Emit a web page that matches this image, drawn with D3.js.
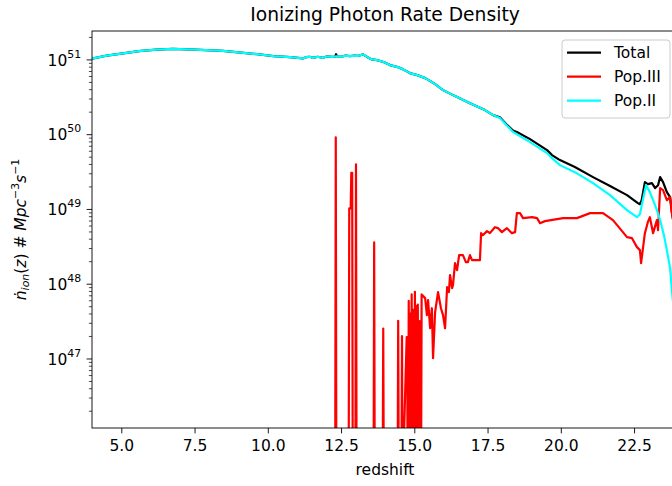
<!DOCTYPE html>
<html><head><meta charset="utf-8">
<script src="https://cdn.jsdelivr.net/npm/d3@7"></script>
<style>
body{margin:0;background:#fff;}
svg{display:block;font-family:"DejaVu Sans",sans-serif;}
</style></head>
<body><svg id="c" width="672" height="486"></svg>
<script>
// ---- data (z = redshift, values given as log10 of rate; 0 value = zero rate) ----
const xTicks = [5.0, 7.5, 10.0, 12.5, 15.0, 17.5, 20.0, 22.5];
const yTickExp = [47, 48, 49, 50, 51];
const seriesNames = ["Total", "Pop.III", "Pop.II"];
const seriesColors = ["#000000", "#ff0000", "#00ffff"];

const popIIz = [4.00,4.5,5.06,5.6,6.2,6.76,7.5,8.47,9.0,9.63,10.2,10.76,11.2,11.3,11.43,11.55,11.7,11.88,12.0,12.2,12.36,12.5,12.65,12.81,12.95,13.1,13.25,13.4,13.55,13.73,13.95,14.17,14.44,14.6,14.85,15.1,15.37,15.55,15.71,15.98,16.39,16.9,17.41,17.69,17.92,18.15,18.37,18.95,19.53,19.70,19.97,20.48,21.10,21.68,22.26,22.60,22.70,22.80,22.91,23.04,23.15,23.28,23.39,23.52,23.62,23.73,23.79,23.9,24.0];
const popIIlog = [51.01,51.05,51.08,51.11,51.13,51.14,51.13,51.115,51.095,51.07,51.045,51.03,51.013,51.03,51.035,51.02,51.035,51.02,51.04,51.035,51.04,51.035,51.05,51.045,51.05,51.048,51.067,51.03,51.00,50.99,50.965,50.924,50.897,50.87,50.817,50.79,50.75,50.71,50.67,50.589,50.509,50.415,50.322,50.255,50.215,50.12,50.03,49.894,49.747,49.68,49.586,49.492,49.345,49.185,48.984,48.89,48.93,49.118,49.318,49.225,49.118,48.984,48.85,48.65,48.449,48.208,47.914,47.5,47.0];

const totalZ = [4.00,4.5,5.06,5.6,6.2,6.76,7.5,8.47,9.0,9.63,10.2,10.76,11.2,11.3,11.43,11.55,11.7,11.88,12.0,12.2,12.30,12.33,12.36,12.5,12.65,12.81,12.95,13.1,13.25,13.4,13.55,13.73,13.95,14.17,14.44,14.6,14.85,15.1,15.37,15.55,15.71,15.98,16.39,16.9,17.41,17.69,17.92,18.15,18.37,18.5,18.95,19.53,19.70,19.97,20.48,21.10,21.68,22.26,22.63,22.70,22.76,22.87,22.97,23.11,23.22,23.32,23.39,23.49,23.62,23.73,23.79,23.9,24.0];
const totalLog = [51.01,51.05,51.08,51.11,51.13,51.14,51.13,51.115,51.095,51.07,51.045,51.03,51.013,51.03,51.035,51.02,51.035,51.02,51.04,51.035,51.037,51.07,51.04,51.035,51.05,51.045,51.05,51.048,51.067,51.03,51.00,50.99,50.965,50.924,50.897,50.87,50.817,50.79,50.75,50.71,50.67,50.589,50.509,50.415,50.322,50.255,50.225,50.13,50.05,50.03,49.934,49.787,49.72,49.653,49.56,49.426,49.306,49.185,49.078,49.064,49.118,49.359,49.332,49.345,49.279,49.318,49.426,49.359,49.225,49.158,48.957,48.7,48.5];

const popIIIz = [4.0,12.30,12.32,12.34,12.76,12.78,12.83,12.85,12.88,12.90,12.99,13.01,13.03,13.61,13.63,13.65,13.92,13.94,13.96,14.43,14.45,14.47,14.56,14.58,14.60,14.74,14.76,14.77,14.79,14.81,14.84,14.86,14.88,14.89,14.91,14.93,14.96,14.98,15.00,15.02,15.04,15.07,15.09,15.10,15.12,15.14,15.18,15.20,15.23,
  15.25,15.37,15.43,15.47,15.54,15.60,15.64,15.71,15.81,15.91,15.98,16.05,16.12,16.18,16.22,16.29,16.32,16.39,16.46,16.53,16.66,16.76,16.83,16.90,16.97,17.24,17.28,17.34,17.48,17.58,17.75,17.86,17.99,18.16,18.33,18.44,18.50,18.61,18.71,19.02,19.19,19.29,19.46,19.87,20.08,20.55,21.00,21.44,21.78,22.26,22.43,22.60,22.70,22.74,22.87,22.97,23.04,23.15,23.28,23.32,23.39,23.49,23.62,23.73,23.79,23.9,24.0];
const popIIIlog = [0,0,49.958,0,0,49.007,49.007,49.483,49.483,0,0,49.595,0,0,48.552,0,0,47.401,0,0,47.503,0,0,47.3,0,47.285,47.285,0,0,47.771,0,47.6,0,0,47.856,0,47.65,0,0,47.891,0,47.7,0,0,47.722,0,47.5,0,0,
  47.856,47.807,47.58,47.78,47.404,47.672,47.003,47.619,47.887,47.672,47.58,47.404,47.953,47.887,48.114,47.94,47.98,48.274,48.181,48.382,48.382,48.288,48.288,48.382,48.315,48.315,48.676,48.649,48.703,48.676,48.756,48.743,48.69,48.743,48.676,48.69,48.944,48.944,48.877,48.89,48.877,48.81,48.837,48.863,48.877,48.877,48.944,48.944,48.85,48.623,48.609,48.489,48.449,48.275,48.676,48.823,48.89,48.676,48.85,48.716,49.278,49.252,49.118,49.158,48.944,48.7,48.5];

// ---- layout ----
const L = 92, R = 678, T = 31, B = 428;
const FS = 15.5, FSS = 10.9, TL = 5.4;
const svg = d3.select("#c");
const x = d3.scaleLinear().domain([4, 24]).range([L, R]);
const y = d3.scaleLog().domain([Math.pow(10, 46.07), Math.pow(10, 51.38)]).range([B, T]);

const toPts = (zs, ls) => zs.map((z, i) => ({z: z, v: ls[i] === 0 ? 0 : Math.pow(10, ls[i])}));
const line = d3.line().x(d => x(d.z)).y(d => d.v > 0 ? y(d.v) : B + 60);

svg.append("defs").append("clipPath").attr("id", "clip")
  .append("rect").attr("x", L).attr("y", T).attr("width", R - L).attr("height", B - T);

const plot = svg.append("g").attr("clip-path", "url(#clip)");
const data = [toPts(totalZ, totalLog), toPts(popIIIz, popIIIlog), toPts(popIIz, popIIlog)];
data.forEach((d, i) => {
  plot.append("path").datum(d).attr("d", line)
    .attr("fill", "none").attr("stroke", seriesColors[i])
    .attr("stroke-width", 2.2).attr("stroke-linejoin", "round");
});

// spines
svg.append("rect").attr("x", L).attr("y", T).attr("width", R - L).attr("height", B - T)
  .attr("fill", "none").attr("stroke", "#000").attr("stroke-width", 0.9);

// x axis
const xa = svg.append("g").attr("transform", `translate(0,${B})`)
  .call(d3.axisBottom(x).tickValues(xTicks).tickSize(TL).tickSizeOuter(0).tickPadding(TL)
    .tickFormat(d => d.toFixed(1)));
xa.select(".domain").remove();
xa.selectAll(".tick line").attr("stroke", "#000").attr("stroke-width", 0.9);
xa.selectAll(".tick text").attr("font-size", FS).attr("fill", "#000")
  .attr("font-family", "DejaVu Sans").attr("dy", "0.78em");

// y axis majors
const majors = yTickExp.map(e => Math.pow(10, e));
const ya = svg.append("g").attr("transform", `translate(${L},0)`)
  .call(d3.axisLeft(y).tickValues(majors).tickSize(TL).tickSizeOuter(0).tickPadding(TL).tickFormat(""));
ya.select(".domain").remove();
ya.selectAll(".tick line").attr("stroke", "#000").attr("stroke-width", 0.9);
ya.selectAll(".tick text").each(function(d, i) {
  const t = d3.select(this).text(null).attr("font-size", FS).attr("fill", "#000")
    .attr("font-family", "DejaVu Sans").attr("dy", "0.36em");
  t.append("tspan").text("10");
  t.append("tspan").attr("font-size", FSS).attr("dy", "-0.72em").text(String(yTickExp[i]));
});
// y minor ticks
const minors = [];
for (let e = 46; e <= 51; e++) for (let m = 2; m <= 9; m++) {
  const v = m * Math.pow(10, e);
  if (v > y.domain()[0] && v < y.domain()[1]) minors.push(v);
}
const ym = svg.append("g").attr("transform", `translate(${L},0)`)
  .call(d3.axisLeft(y).tickValues(minors).tickSize(3.1).tickSizeOuter(0).tickFormat(""));
ym.select(".domain").remove();
ym.selectAll(".tick line").attr("stroke", "#000").attr("stroke-width", 0.7);

// title and labels
svg.append("text").attr("x", (L + R) / 2).attr("y", 21).attr("text-anchor", "middle")
  .attr("font-size", 18.7).attr("fill", "#000").text("Ionizing Photon Rate Density");
svg.append("text").attr("x", (L + R) / 2).attr("y", 475).attr("text-anchor", "middle")
  .attr("font-size", FS).attr("fill", "#000").text("redshift");

const yl = svg.append("text").attr("transform", "translate(26,229.5) rotate(-90)")
  .attr("text-anchor", "middle").attr("font-size", FS).attr("fill", "#000");
yl.append("tspan").attr("font-style", "italic").text("ṅ");
yl.append("tspan").attr("font-style", "italic").attr("font-size", FSS).attr("dy", "0.3em").text("ion");
yl.append("tspan").attr("dy", "-0.21em").text("(");
yl.append("tspan").attr("font-style", "italic").text("z");
yl.append("tspan").text(")  #  ");
yl.append("tspan").attr("font-style", "italic").text("Mpc");
yl.append("tspan").attr("font-size", FSS).attr("dy", "-0.6em").text("−3");
yl.append("tspan").attr("font-style", "italic").attr("dy", "0.42em").text("s");
yl.append("tspan").attr("font-size", FSS).attr("dy", "-0.6em").text("−1");

// legend
const lg = svg.append("g");
lg.append("rect").attr("x", 562).attr("y", 40).attr("width", 108).attr("height", 78).attr("rx", 3)
  .attr("fill", "#fff").attr("fill-opacity", 0.8).attr("stroke", "#cccccc").attr("stroke-width", 1);
seriesNames.forEach((n, i) => {
  const yy = 52.7 + i * 24;
  lg.append("line").attr("x1", 567).attr("x2", 601).attr("y1", yy).attr("y2", yy)
    .attr("stroke", seriesColors[i]).attr("stroke-width", 2.2);
  lg.append("text").attr("x", 614).attr("y", yy + 5.5).attr("font-size", FS).attr("fill", "#000").text(n);
});
</script></body></html>
